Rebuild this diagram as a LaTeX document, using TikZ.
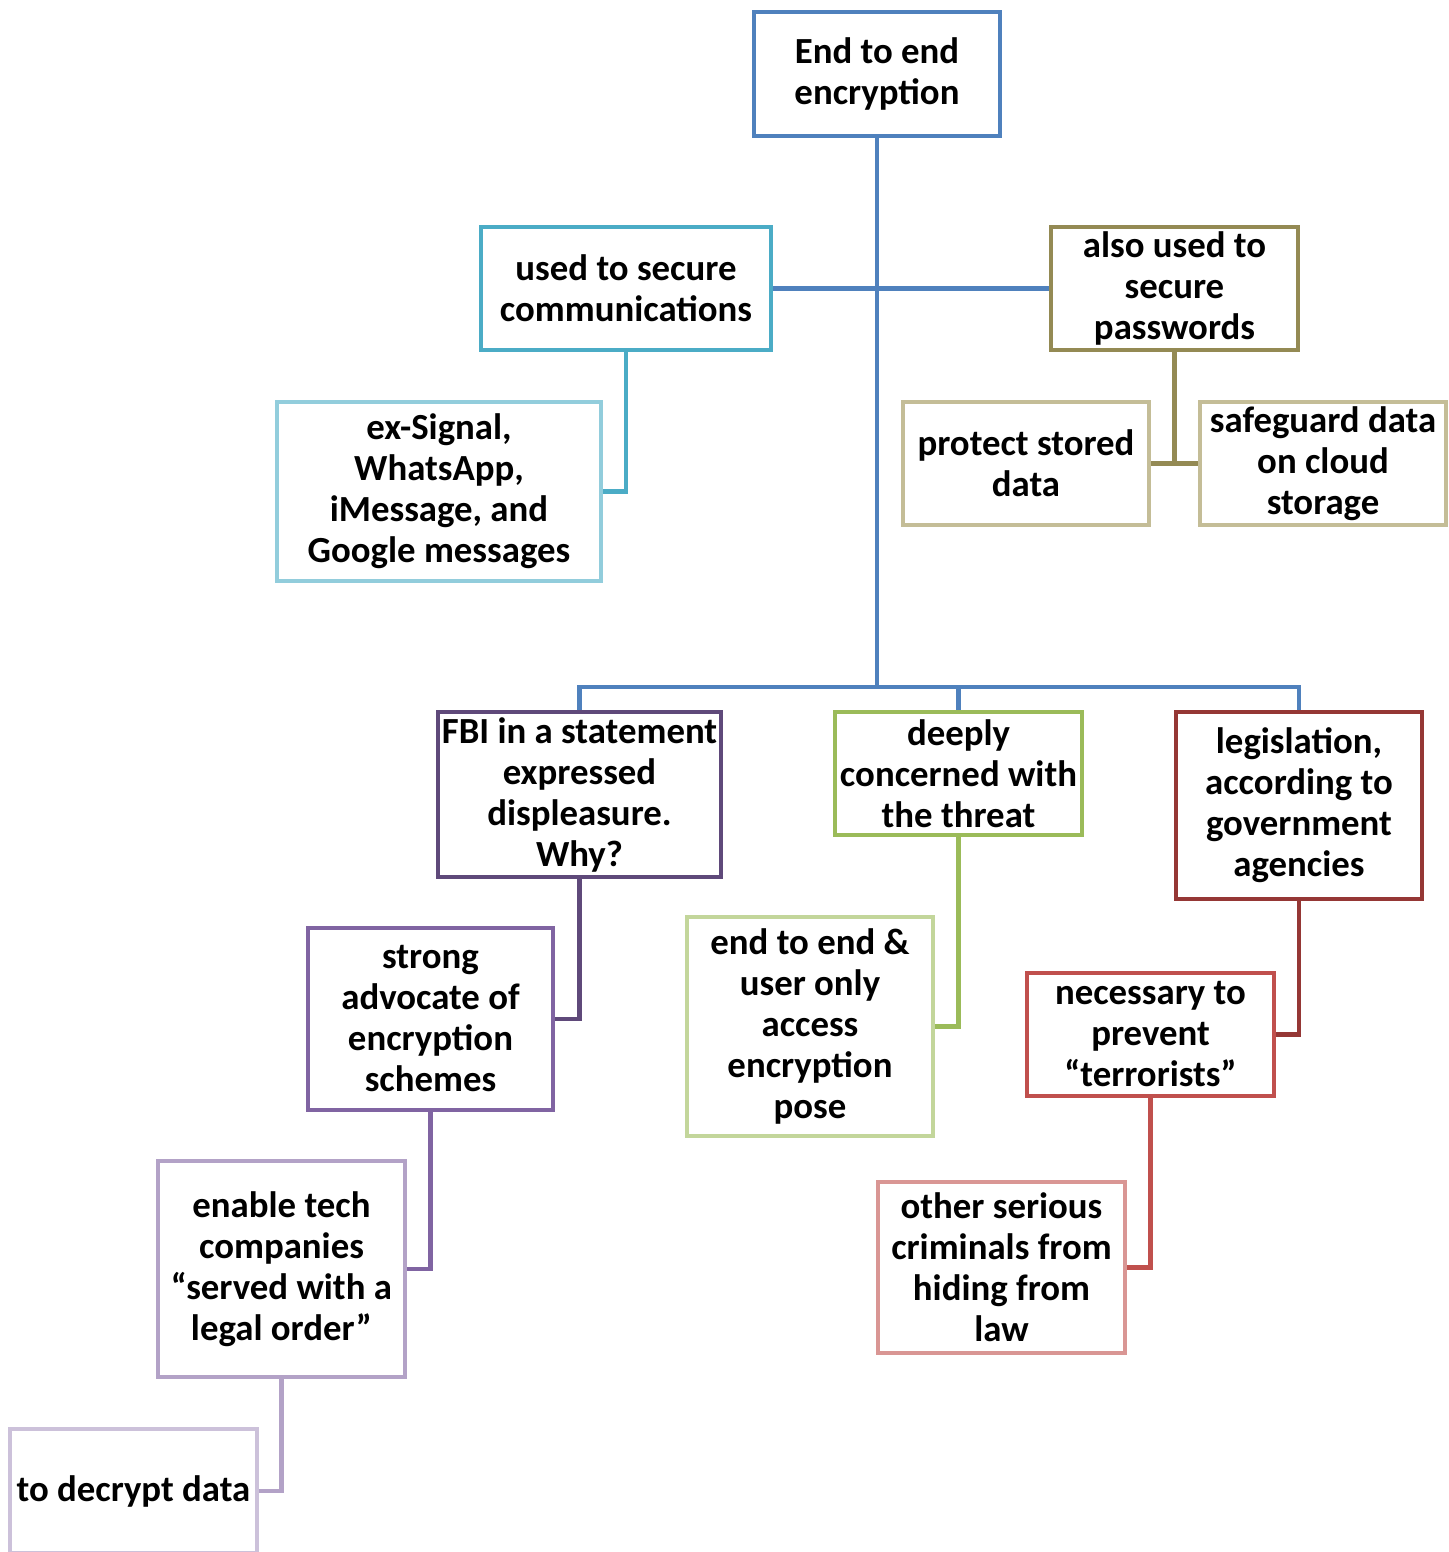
\documentclass[tikz,border=0pt]{standalone}
\usepackage{fontspec}
\setmainfont{Carlito}
\definecolor{cblue}{HTML}{4F81BD}
\definecolor{cteal}{HTML}{4BACC6}
\definecolor{clteal}{HTML}{92CDDC}
\definecolor{colive}{HTML}{948A54}
\definecolor{clolive}{HTML}{C4BD97}
\definecolor{cdpurple}{HTML}{5F497A}
\definecolor{cpurple}{HTML}{8064A2}
\definecolor{clpurple}{HTML}{B3A2C7}
\definecolor{cvlpurple}{HTML}{CCC1DA}
\definecolor{cgreen}{HTML}{9BBB59}
\definecolor{clgreen}{HTML}{C3D69B}
\definecolor{cdred}{HTML}{953735}
\definecolor{cred}{HTML}{C0504D}
\definecolor{clred}{HTML}{D99694}
\tikzset{
  box/.style={draw, line width=2.2pt, fill=white, inner sep=0pt, align=center,
    font=\fontsize{18.4}{20.5}\selectfont\bfseries},
  conn/.style={line width=2.2pt},
}
\newcommand{\bx}[7]{%
  \node[box, draw=#6, minimum width={(#4-#2)*0.5pt}, minimum height={(#5-#3)*0.5pt}]
    (#1) at ({(#2+#4)/2},{(#3+#5)/2}) {#7};}
\begin{document}
\begin{tikzpicture}[x=0.5pt,y=-0.5pt]
\useasboundingbox (0,0) rectangle (1448,1552);
\bx{root}{754}{12}{1000}{136}{cblue}{End to end\\encryption}
\bx{used}{481}{227}{771}{350}{cteal}{used to secure\\communications}
\bx{also}{1051}{227}{1298}{350}{colive}{also used to\\secure\\passwords}
\bx{exsig}{277}{402}{601}{581}{clteal}{ex-Signal,\\WhatsApp,\\iMessage, and\\Google messages}
\bx{protect}{903}{402}{1149}{525}{clolive}{protect stored\\data}
\bx{safe}{1200}{402}{1446}{525}{clolive}{safeguard data\\on cloud\\storage}
\bx{fbi}{438}{712}{721}{877}{cdpurple}{FBI in a statement\\expressed\\displeasure.\\Why?}
\bx{deeply}{835}{712}{1082}{835}{cgreen}{deeply\\concerned with\\the threat}
\bx{legis}{1176}{712}{1422}{899}{cdred}{legislation,\\according to\\government\\agencies}
\bx{strong}{308}{928}{553}{1110}{cpurple}{strong\\advocate of\\encryption\\schemes}
\bx{e2e}{687}{917}{933}{1136}{clgreen}{end to end \&\\user only\\access\\encryption\\pose}
\bx{nec}{1027}{973}{1274}{1096}{cred}{necessary to\\prevent\\“terrorists”}
\bx{enable}{158}{1161}{405}{1377}{clpurple}{enable tech\\companies\\“served with a\\legal order”}
\bx{other}{878}{1182}{1125}{1353}{clred}{other serious\\criminals from\\hiding from\\law}
\bx{decrypt}{10}{1429}{257}{1553}{cvlpurple}{to decrypt data}
% connectors
\coordinate (bus) at (877,687);
\draw[conn, cblue] (root.south) -- (bus);
\draw[conn, cblue] (used.east) -- (also.west);
\draw[conn, cblue] (fbi.north) |- (bus) -| (legis.north);
\draw[conn, cblue] (deeply.north) -- (deeply.north |- bus);
\draw[conn, cteal] (used.south) |- (exsig.east);
\draw[conn, colive] (also.south) -- (also.south |- protect.east);
\draw[conn, colive] (protect.east) -- (safe.west);
\draw[conn, cdpurple] (fbi.south) |- (strong.east);
\draw[conn, cgreen] (deeply.south) |- (e2e.east);
\draw[conn, cdred] (legis.south) |- (nec.east);
\draw[conn, cpurple] (strong.south) |- (enable.east);
\draw[conn, cred] (nec.south) |- (other.east);
\draw[conn, clpurple] (enable.south) |- (decrypt.east);
\end{tikzpicture}
\end{document}
